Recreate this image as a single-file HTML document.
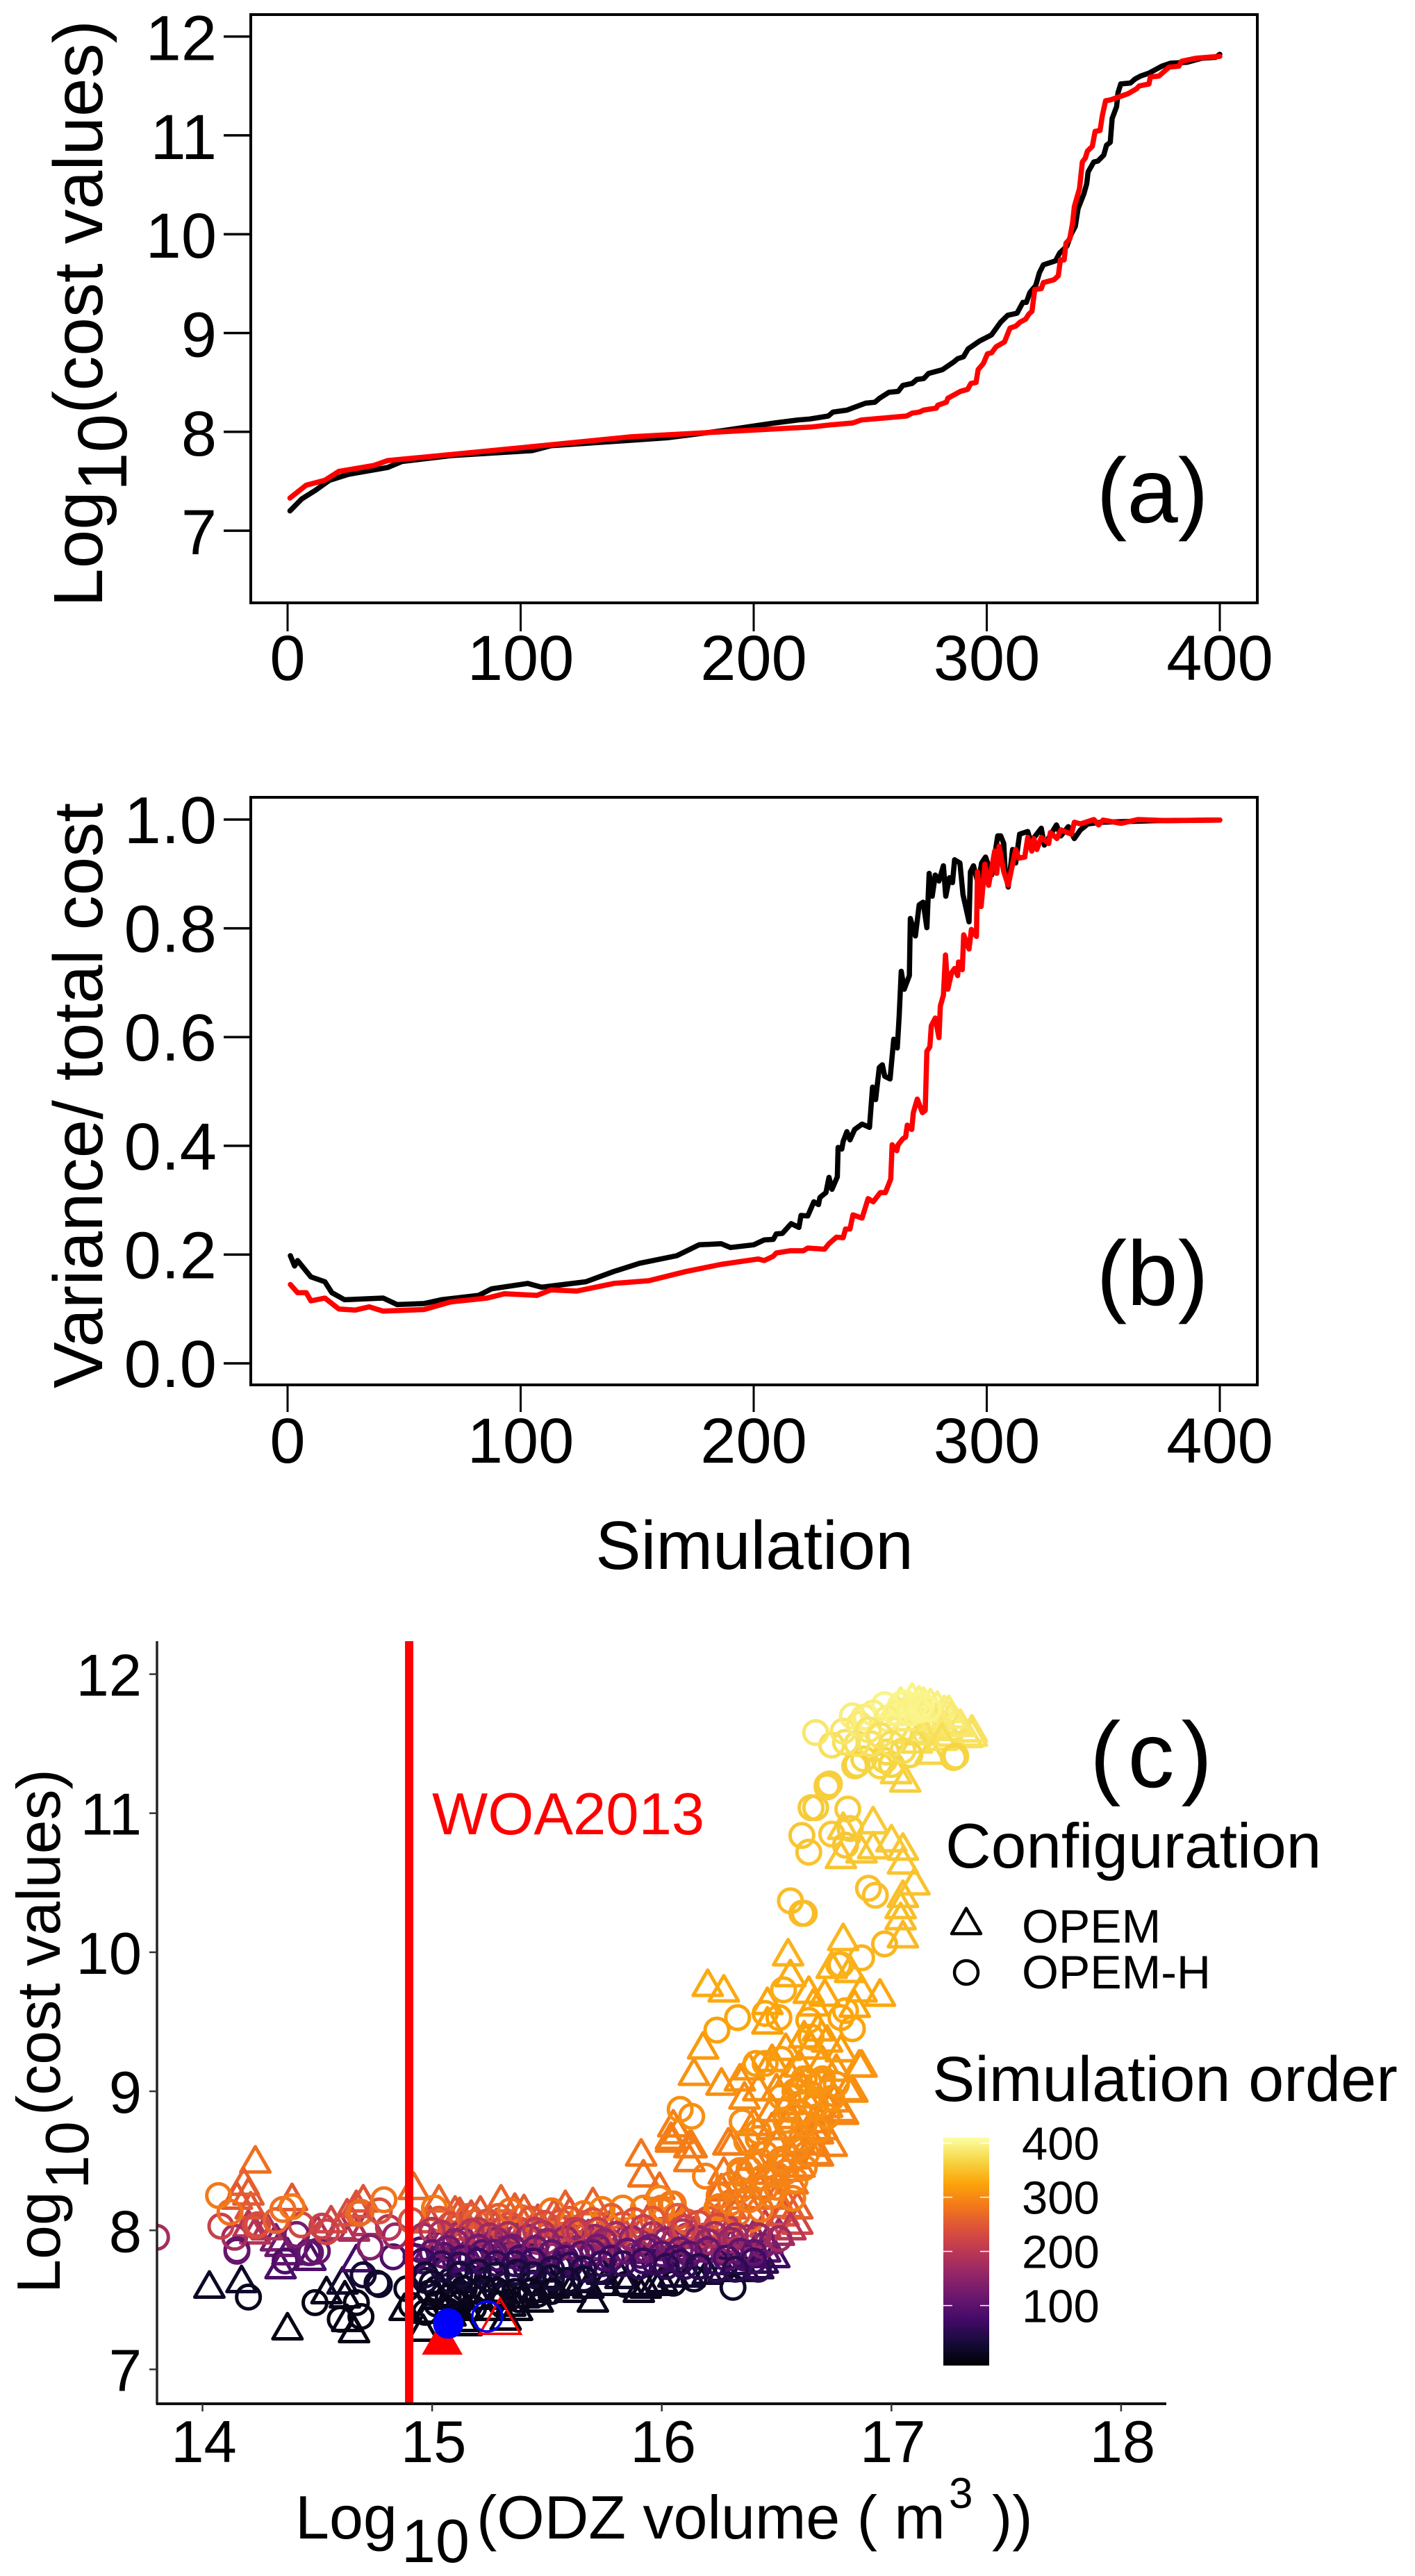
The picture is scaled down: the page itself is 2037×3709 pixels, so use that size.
<!DOCTYPE html>
<html lang="en">
<head>
<meta charset="utf-8">
<title>Cost and variance of simulations</title>
<style>
html,body{margin:0;padding:0;background:#fff}
svg{display:block}
text{font-family:"Liberation Sans",Arial,sans-serif;fill:#000}
</style>
</head>
<body>
<svg id="fig" xmlns="http://www.w3.org/2000/svg" width="2037" height="3709" viewBox="0 0 2037 3709">
  <defs>
    <clipPath id="plot-c-clip"><rect x="226" y="2363" width="1453" height="1098"/></clipPath>
    <linearGradient id="inferno-gradient" x1="0" y1="1" x2="0" y2="0">
      <stop offset="0" stop-color="#000004"/><stop offset=".1" stop-color="#160b39"/>
      <stop offset=".2" stop-color="#420a68"/><stop offset=".3" stop-color="#6a176e"/>
      <stop offset=".4" stop-color="#932667"/><stop offset=".5" stop-color="#bc3754"/>
      <stop offset=".6" stop-color="#dd513a"/><stop offset=".7" stop-color="#f37819"/>
      <stop offset=".8" stop-color="#fca50a"/><stop offset=".9" stop-color="#f6d746"/>
      <stop offset="1" stop-color="#fcffa4"/>
    </linearGradient>
  </defs>
  <rect x="0" y="0" width="2037" height="3709" fill="#fff"/>

  <g id="panel-a">
    <rect x="361" y="21" width="1449" height="847" fill="none" stroke="#000" stroke-width="4"/>
    <text transform="translate(147,874) rotate(-90)" font-size="100">Log<tspan dy="35">10</tspan><tspan dy="-35">(cost values)</tspan></text>
    <text x="1659" y="752" font-size="132" text-anchor="middle">(a)</text>
  </g>
  <g id="panel-b">
    <rect x="361" y="1148" width="1449" height="846" fill="none" stroke="#000" stroke-width="4"/>
    <text transform="translate(147,1999) rotate(-90)" font-size="100">Variance/ total cost</text>
    <text x="1659" y="1879" font-size="132" text-anchor="middle">(b)</text>
    <text x="1086" y="2259" font-size="98" text-anchor="middle">Simulation</text>
  </g>
  <g id="panel-c">
    <g id="scatter" clip-path="url(#plot-c-clip)"></g>
    <line x1="226" y1="2363" x2="226" y2="3462" stroke="#222" stroke-width="3.5"/>
    <line x1="225" y1="3461" x2="1679" y2="3461" stroke="#111" stroke-width="4"/>
    <text x="622" y="2641" font-size="85" style="fill:#f00">WOA2013</text>
    <text x="1662" y="2573" font-size="134" text-anchor="middle" letter-spacing="10">(c)</text>
    <text transform="translate(86,3302) rotate(-90)" font-size="88"><tspan x="0" y="0">Log</tspan><tspan x="150" y="41">10</tspan><tspan x="256" y="0">(cost values)</tspan></text>
    <text font-size="88"><tspan x="425" y="3655">Log</tspan><tspan x="578" y="3689">10</tspan><tspan x="686" y="3655">(ODZ volume ( m</tspan><tspan x="1366" y="3611" font-size="62">3</tspan><tspan x="1428" y="3655">))</tspan></text>

    <text x="1361" y="2689" font-size="91">Configuration</text>
    <polygon points="1391,2747.7 1412,2784.1 1370,2784.1" fill="none" stroke="#000" stroke-width="4.5" stroke-linejoin="round"/>
    <circle cx="1391" cy="2840" r="17" fill="none" stroke="#000" stroke-width="4.5"/>
    <text x="1471" y="2797" font-size="68">OPEM</text>
    <text x="1471" y="2863" font-size="68">OPEM-H</text>
    <text x="1342" y="3025" font-size="92">Simulation order</text>
    <rect x="1358" y="3077.5" width="66" height="328.5" fill="url(#inferno-gradient)"/>
    <g id="colorbar-ticks"></g>
  </g>
</svg>
<script>
/* ---------- Panel (a): sorted cost values ---------- */
var costSimBlack = [1,6,12,18,26,43,49,70,105,113,163,186,209,219,224,232,234,240,248,252,254,258,262,264,268,270,273,275,281,286,287.5,290,292,297,302,306,309,313,315.5,317,318.5,321,322.6,324.3,329.5,331.3,334.4,336.2,338,339.2,341.7,342.9,343.5,345.9,347.7,350.2,351.4,353,353.8,355.7,356.3,357.5,361.7,363.6,366,369.6,375.1,378.8,386,392.2,398.2,400];
var costBlack = [7.20,7.32,7.41,7.51,7.57,7.64,7.70,7.76,7.81,7.86,7.94,8.01,8.09,8.12,8.13,8.16,8.20,8.22,8.29,8.30,8.34,8.40,8.41,8.47,8.49,8.53,8.54,8.59,8.63,8.71,8.74,8.76,8.84,8.92,8.98,9.11,9.18,9.20,9.31,9.31,9.41,9.48,9.61,9.69,9.73,9.81,9.88,10.0,10.08,10.26,10.41,10.51,10.63,10.73,10.74,10.80,10.90,10.93,11.17,11.29,11.43,11.52,11.53,11.57,11.60,11.63,11.70,11.73,11.74,11.78,11.79,11.82];
var costSimRed = [1,8,16,22,37,43,70,109,147.5,186,225,232.8,242.5,246.2,255.9,265.6,268,271.1,272.9,278.4,279,282.7,283.3,288.7,291.8,293.2,295.4,296.3,298.5,300.3,302.1,304,307.6,310,312.5,314.3,316.7,318,319.4,320.6,323.4,324.3,328.9,330.7,331.6,333.2,334,335.6,336.8,337.6,339.8,341,342.3,343.2,345.3,346.5,348.6,349.6,351,353.2,360.5,364.2,365.4,369.6,370.2,373.9,378.2,382.4,383.6,389.7,400];
var costRed = [7.33,7.46,7.51,7.60,7.66,7.71,7.77,7.86,7.95,8.00,8.05,8.07,8.09,8.12,8.14,8.16,8.19,8.20,8.22,8.24,8.27,8.30,8.34,8.41,8.43,8.49,8.50,8.63,8.69,8.79,8.80,8.86,8.91,9.05,9.07,9.11,9.14,9.19,9.22,9.44,9.45,9.51,9.54,9.58,9.74,9.74,9.91,9.95,10.11,10.28,10.46,10.73,10.77,10.84,10.89,11.04,11.05,11.20,11.35,11.36,11.42,11.47,11.50,11.52,11.59,11.60,11.69,11.70,11.75,11.78,11.80];

/* ---------- Panel (b): variance / total cost ---------- */
var ratioSimBlack = [1.2,3,4.3,10,16,19,24.4,41,47,58.5,66,82,87.5,103,109,128,140,151,167,176.6,186,190,200,204.5,208.4,209.7,212.3,216.1,219.4,220.3,223.2,225.8,227.8,228.4,231,232.3,233.6,235.9,236.2,237.8,238.4,240,241.3,243.3,246.5,249.7,251,252.3,253.9,255.2,256.2,258.5,260.1,261.6,262.4,263.3,264.6,266.8,267.2,269.4,271,272.7,274.3,275.3,276.6,277.9,279.5,281.4,282.4,284,285.3,286.2,288.5,289.8,292.4,293,294.3,296.3,297.8,299.5,302.1,304.7,306,307.3,307.9,309.2,311.1,312.4,314.1,317.6,318.9,323.4,324.7,329.9,331.8,335,337.6,340.2,343.4,349.3,372.5,400];
var ratioBlack = [.198,.179,.189,.159,.150,.130,.117,.120,.108,.110,.117,.125,.137,.147,.140,.150,.169,.184,.198,.218,.220,.213,.218,.227,.228,.238,.239,.257,.250,.272,.271,.297,.292,.305,.314,.342,.320,.343,.397,.394,.408,.426,.411,.430,.440,.434,.508,.485,.544,.549,.528,.523,.596,.580,.638,.721,.688,.713,.818,.786,.843,.848,.801,.901,.859,.898,.887,.915,.859,.893,.884,.926,.920,.862,.812,.904,.915,.882,.920,.931,.898,.970,.970,.956,.904,.876,.945,.920,.973,.978,.959,.984,.953,.990,.970,.987,.965,.981,.992,.995,.998,.999];
var ratioSimRed = [1.2,4.3,8,10,16,22,29,35,41,58.5,70,85.6,93,107,113,124,140,155,171,186,202,204.5,208.4,209.7,215.5,221.3,223.2,230.4,232.3,235.5,238.4,239.4,241.3,242.6,246.5,249.1,251.3,254.3,256.5,258.8,259.4,261.4,262,264,265.2,265.9,267.8,268.5,270.2,272.4,273.6,274.3,275.6,276.2,277.9,279.5,280.1,281.4,282.3,283.3,284.9,286.2,287.5,287.9,289.5,290.1,292.4,293.4,295.6,296,297.6,299.2,300.8,303.4,304.3,305.3,307.3,309.2,312.4,313.7,316.3,317.6,319.3,320.2,321.5,323.4,326.6,327.3,330.1,331.8,336.3,337.6,340.2,346,348,349.9,357.7,364.8,377.7,400];
var ratioRed = [.145,.130,.130,.115,.120,.100,.098,.104,.096,.099,.113,.120,.128,.125,.135,.133,.147,.152,.169,.182,.192,.189,.197,.203,.207,.207,.212,.210,.220,.232,.231,.247,.247,.273,.267,.303,.297,.314,.314,.339,.402,.391,.402,.413,.416,.438,.430,.461,.486,.461,.465,.574,.582,.621,.635,.599,.657,.677,.751,.688,.718,.726,.713,.738,.724,.788,.762,.798,.785,.904,.840,.918,.879,.942,.901,.951,.904,.879,.945,.929,.931,.967,.942,.965,.945,.967,.956,.976,.965,.981,.973,.995,.992,1.0,.990,.999,.993,1.0,.998,.999];

/* ---------- Shared tick labels ---------- */
var simTicks = [0,100,200,300,400];
var costTicksA = [7,8,9,10,11,12];
var ratioTicks = ["0.0","0.2","0.4","0.6","0.8","1.0"];
var odzTicks = [14,15,16,17,18];
var costTicksC = [7,8,9,10,11,12];
var orderTicks = [100,200,300,400];

/* ---------- Panel (c): OPEM triangles ---------- */
var triOdz = [
14.37,14.66,14.63,14.96,15.15,15.13,15.32,14.88,15.37,15.34,
15.46,15.70,15.02,14.62,15.40,14.54,15.90,15.53,14.03,15.93,
15.58,15.97,14.61,14.17,15.65,15.25,15.10,15.20,15.82,16.27,
16.05,16.20,16.36,15.74,16.42,14.34,14.67,14.47,16.45,16.49,
14.37,14.34,14.32,14.99,15.15,15.30,15.45,15.60,15.75,15.90,
16.05,16.20,16.30,16.51,16.40,15.05,15.22,15.38,15.52,15.68,
15.84,16.00,16.14,16.30,14.23,14.28,14.50,14.60,14.20,14.66,
14.72,14.99,15.14,15.28,15.46,15.62,15.78,15.94,16.08,16.24,
16.59,14.56,14.63,14.21,14.67,15.10,15.21,15.36,15.58,15.70,
15.30,15.40,15.53,15.60,15.12,15.17,14.23,14.18,14.20,14.15,
14.39,14.70,14.92,15.03,16.45,16.53,16.59,16.55,16.26,16.27,
15.91,15.92,15.99,16.04,16.04,16.12,16.12,16.05,16.07,16.13,
16.31,16.57,16.57,16.68,16.66,16.67,16.48,16.29,16.67,16.68,
16.79,16.78,16.66,16.36,16.83,16.81,16.14,16.26,16.34,16.86,
16.76,16.87,16.60,16.48,16.18,16.54,16.68,16.46,16.66,16.46,
16.55,16.62,16.72,16.60,16.70,16.75,16.50,16.56,16.65,16.78,
16.64,16.71,16.87,16.95,16.20,16.27,16.56,16.55,16.79,16.82,
16.74,16.84,17.05,17.04,17.04,17.05,17.10,17.05,16.78,16.87,
16.92,17.05,17.00,16.79,16.92,17.02,17.06,17.17,17.25,17.35,
17.15,17.22,17.28,17.19,17.10,17.05,17.24,17.33,17.35,17.11,
17.04,17.09,17.12,17.14,17.17,17.20,17.23,17.25,17.02,17.30,
16.30,16.36,16.42,16.50,16.47,16.54,16.60,16.40,16.50,16.60,
16.40,16.48,16.56,16.70,16.74,16.72,16.42,16.38,16.62,16.72,
16.32,16.38,16.44,16.46,16.52,16.56,15.10,15.30,15.45,15.60,
15.75,15.85,16.00,16.12,15.15,15.25,14.98,15.08,15.50,15.68,
17.00,17.05,17.10,17.15,17.20,17.26,17.08,17.18,17.14,17.22];
var triCost = [
7.28,7.26,7.34,7.27,7.31,7.34,7.35,7.42,7.42,7.45,
7.48,7.48,7.50,7.51,7.51,7.54,7.55,7.58,7.58,7.58,
7.60,7.60,7.61,7.62,7.62,7.55,7.52,7.50,7.65,7.70,
7.66,7.68,7.70,7.68,7.72,7.72,7.77,7.78,7.84,7.80,
7.82,7.88,7.92,7.85,7.83,7.85,7.84,7.86,7.85,7.83,
7.85,7.84,7.88,7.96,7.95,7.93,7.95,7.93,7.96,7.95,
7.96,7.94,7.97,8.00,7.97,8.00,7.98,8.00,8.02,7.99,
8.03,8.05,8.04,8.03,8.06,8.05,8.03,8.06,8.05,8.06,
8.04,8.05,8.10,8.15,8.16,8.12,8.12,8.14,8.16,8.18,
8.20,8.13,8.10,8.11,8.11,8.09,8.48,8.32,8.25,8.22,
8.21,8.20,8.29,8.20,8.02,8.10,8.15,8.16,8.28,8.40,
8.53,8.38,8.29,8.63,8.65,8.49,8.59,8.74,8.69,8.59,
8.61,8.33,8.51,8.53,8.61,8.69,8.72,8.61,8.54,8.69,
8.83,8.85,8.77,8.94,8.99,9.00,9.11,9.04,9.07,9.17,
9.14,9.17,9.17,9.21,9.30,9.29,9.43,9.48,9.61,9.62,
8.90,8.95,9.02,9.05,9.20,8.92,9.00,9.10,9.30,9.28,
9.70,9.68,9.71,9.68,9.75,9.71,9.82,9.97,10.08,9.85,
9.88,9.60,10.10,10.23,10.31,10.39,10.48,10.63,10.67,10.71,
10.74,10.73,10.79,10.88,10.92,11.28,11.22,11.42,11.55,11.55,
11.63,11.62,11.64,11.60,11.57,11.57,11.59,11.54,11.58,11.50,
11.78,11.81,11.79,11.78,11.77,11.75,11.72,11.72,11.74,11.62,
8.15,8.22,8.30,8.22,8.40,8.42,8.45,8.50,8.60,8.62,
8.75,8.85,8.80,8.72,8.60,8.88,9.00,9.15,9.38,9.35,
7.75,7.80,7.76,7.90,8.10,8.00,7.62,7.50,7.55,7.55,
7.60,7.60,7.62,7.66,7.42,7.42,7.40,7.38,7.65,7.58,
11.70,11.70,11.72,11.72,11.68,11.68,11.66,11.66,11.56,11.52];
var triOrder = [
2,2,3,3,3,3,4,4,5,5,
6,6,6,6,7,8,8,10,15,10,
12,12,25,20,14,10,8,7,22,30,
24,28,32,28,50,85,75,85,95,70,
105,115,130,110,100,110,105,115,110,100,
110,105,125,170,160,150,160,150,170,160,
170,155,175,195,190,190,185,190,195,180,
190,225,215,210,230,225,210,230,225,230,
225,225,235,245,240,250,250,255,260,262,
262,255,250,250,250,245,275,260,255,250,
250,245,270,265,215,240,255,258,270,280,
282,278,272,288,288,285,288,292,290,288,
288,282,288,288,290,292,292,288,288,292,
298,298,295,302,304,305,308,306,307,310,
310,311,311,312,316,315,320,322,325,325,
300,302,305,306,312,300,304,308,316,316,
328,327,330,328,330,329,332,336,340,334,
335,325,342,345,347,348,350,352,352,353,
354,354,355,356,357,362,361,368,378,378,
382,382,384,380,378,378,380,377,379,372,
395,398,397,396,395,394,392,392,392,385,
260,272,280,272,285,286,288,288,290,292,
296,300,298,296,292,300,304,308,318,318,
40,70,55,130,240,200,14,7,10,10,
12,12,14,22,4,4,3,3,20,12,
390,390,392,392,388,388,386,386,378,375];

/* ---------- Panel (c): OPEM-H circles ---------- */
var circOdz = [
14.60,14.69,14.97,14.91,14.49,14.67,15.07,15.18,15.30,15.38,
14.20,15.46,15.31,15.20,15.12,14.89,15.02,15.44,15.50,14.76,
14.77,15.84,16.05,16.31,16.14,14.97,15.08,15.16,15.24,15.34,
14.70,15.73,16.24,16.42,15.05,15.25,15.41,15.55,15.90,16.10,
15.97,16.24,14.36,15.10,15.58,15.17,15.28,14.83,15.91,15.34,
15.42,15.75,16.00,16.36,14.46,14.47,14.50,14.15,14.15,14.95,
15.80,16.14,16.27,15.63,15.55,15.19,14.73,15.02,15.30,16.44,
16.27,15.46,15.77,15.90,16.05,14.41,14.14,13.80,14.84,16.11,
16.19,15.12,15.38,15.66,16.36,16.51,14.54,15.82,16.28,16.00,
15.31,15.37,15.56,16.29,14.81,15.11,14.08,14.23,14.52,15.34,
14.24,14.43,15.83,15.56,15.19,16.11,14.32,14.91,15.67,16.20,
16.39,15.39,14.68,14.69,15.66,14.12,15.34,15.52,16.00,14.77,
14.35,15.74,15.83,15.92,15.998,16.24,15.01,14.39,16.25,16.05,
16.04,14.79,15.99,16.57,14.07,16.48,16.34,16.50,16.19,16.38,
16.34,16.34,16.42,16.54,16.53,16.52,16.61,16.37,16.42,16.42,
16.35,16.54,16.13,16.08,16.55,16.67,16.67,16.52,16.69,16.62,
16.70,16.64,16.41,16.45,16.52,16.24,16.65,16.83,16.33,16.51,
16.78,16.45,16.64,16.80,16.53,16.77,16.78,16.87,16.97,16.62,
16.56,16.61,16.90,16.93,16.64,16.61,16.74,16.80,16.82,16.67,
16.65,16.81,16.72,16.72,16.73,17.27,17.28,16.84,16.85,17.08,
16.88,16.98,16.95,17.00,16.97,16.74,16.80,16.85,16.91,16.67,
16.79,16.83,16.88,16.89,16.86,16.97,17.04,17.10,17.13,17.06,
15.03,15.08,15.16,15.24,15.29,15.43,15.49,15.60,15.70,15.78,
15.88,15.96,16.07,16.16,16.24,16.33,16.30,16.43,16.38,16.45,
14.96,15.04,15.13,15.17,15.28,15.33,15.42,15.48,15.58,15.64,
15.71,15.80,15.87,15.96,16.02,16.09,16.16,16.23,16.32,16.42,
16.25,16.30,16.36,16.44,16.50,16.58,16.62,16.45,16.50,16.58,
16.63,16.56,16.62,16.68,16.60,16.72,16.65,16.74,16.58,16.76,
16.92,16.98,17.02,17.08,17.12,17.16,16.90,16.95,17.00,17.05,
15.00,15.20,15.45,15.62,15.72,15.92,16.10,15.25,16.20,15.50,
16.40,16.30,15.75,15.95,16.08,15.35,15.10,15.05,15.70,15.22,
14.93,15.00,15.07,15.13,15.20,15.27,15.33,15.38,15.45,15.52,
15.58,15.65,15.72,15.78,15.85,15.93,16.00,16.06,16.12,16.20,
16.28,16.34,16.40,14.96,15.04,15.12,15.20,15.28,15.36,15.44,
15.52,15.60,15.66,15.74,15.83,15.92,16.02,16.08,16.16,16.32,
14.97,15.00,15.12,15.20,15.28,15.37,15.44,15.52,15.59,15.66,
14.99,15.07,15.14,15.22,15.28,15.36,15.43,15.52,15.02,15.12];
var circCost = [
7.36,7.38,7.41,7.46,7.48,7.48,7.42,7.44,7.47,7.50,
7.52,7.54,7.54,7.56,7.55,7.58,7.58,7.62,7.61,7.62,
7.61,7.61,7.62,7.59,7.65,7.64,7.64,7.66,7.65,7.68,
7.68,7.71,7.72,7.72,7.72,7.72,7.73,7.74,7.74,7.74,
7.77,7.77,7.78,7.79,7.77,7.80,7.80,7.81,7.82,7.82,
7.82,7.80,7.78,7.80,7.84,7.84,7.85,7.85,7.86,7.86,
7.84,7.86,7.84,7.87,7.87,7.87,7.88,7.90,7.90,7.89,
7.86,7.92,7.92,7.92,7.91,7.97,7.95,7.95,7.96,7.96,
7.96,7.97,7.96,7.96,7.95,7.94,7.99,7.98,7.99,8.00,
8.01,8.01,8.01,8.01,8.02,8.02,8.03,8.03,8.03,8.04,
8.04,8.04,8.04,8.06,8.06,8.06,8.07,8.07,8.05,8.08,
8.08,8.09,8.12,8.13,8.12,8.13,8.14,8.14,8.14,8.14,
8.15,8.15,8.16,8.16,8.16,8.16,8.16,8.17,8.17,8.19,
8.19,8.22,8.23,8.23,8.25,8.25,8.29,8.31,8.39,8.44,
8.41,8.43,8.47,8.42,8.49,8.51,8.66,8.64,8.66,8.71,
8.78,8.79,8.82,8.87,8.87,8.89,8.90,8.96,9.07,9.09,
9.09,9.07,9.20,9.20,9.23,9.44,9.39,9.45,9.53,9.53,
9.53,9.56,9.51,9.58,9.73,9.91,9.91,9.96,10.06,10.28,
10.37,10.28,10.46,10.41,10.72,10.84,10.85,10.77,10.89,11.04,
11.04,11.03,11.19,11.20,11.21,11.40,11.41,11.34,11.35,11.42,
11.39,11.44,11.34,11.35,11.38,11.49,11.51,11.50,11.50,11.58,
11.59,11.70,11.69,11.69,11.64,11.78,11.78,11.77,11.78,11.79,
8.08,8.04,8.10,8.06,8.10,8.08,8.05,8.08,8.07,8.10,
8.07,8.08,8.10,8.05,8.03,8.12,8.20,8.15,8.22,8.30,
7.96,7.98,7.93,7.99,7.93,7.97,7.95,7.98,7.94,7.99,
7.95,7.97,7.94,7.97,7.93,7.99,7.94,7.97,7.96,7.96,
8.25,8.33,8.36,8.38,8.40,8.36,8.45,8.55,8.62,8.58,
8.55,8.72,8.76,8.72,8.85,8.82,8.98,8.95,9.00,9.05,
11.72,11.68,11.72,11.72,11.74,11.75,11.60,11.56,11.50,11.45,
8.00,8.00,8.00,8.00,8.00,8.02,8.02,7.96,7.92,7.92,
7.84,7.93,7.92,7.88,7.86,7.88,7.92,7.82,7.84,7.84,
7.81,7.84,7.87,7.80,7.88,7.84,7.87,7.80,7.87,7.84,
7.80,7.83,7.88,7.80,7.85,7.86,7.83,7.80,7.83,7.86,
7.80,7.85,7.78,7.78,7.76,7.75,7.78,7.76,7.76,7.78,
7.72,7.75,7.72,7.76,7.76,7.78,7.74,7.77,7.74,7.72,
7.68,7.62,7.68,7.70,7.68,7.70,7.68,7.66,7.64,7.65,
7.55,7.52,7.58,7.58,7.57,7.56,7.56,7.56,7.47,7.47];
var circOrder = [
2,2,3,4,3,3,3,3,5,6,
10,8,8,6,7,10,10,15,12,18,
18,10,12,20,18,25,22,20,20,22,
25,40,50,55,35,35,45,50,50,52,
60,60,85,75,70,75,80,85,80,85,
90,75,65,80,100,105,110,110,110,90,
150,120,110,140,150,150,140,135,140,130,
150,160,170,165,155,130,175,175,160,180,
230,170,165,165,165,170,220,235,250,225,
225,225,230,200,200,235,215,225,215,240,
235,225,240,245,260,250,260,240,240,255,
270,265,265,270,285,275,275,280,285,240,
275,290,290,290,285,290,285,285,288,285,
285,280,295,290,285,290,292,292,292,296,
294,295,296,296,298,298,300,300,300,302,
304,304,305,306,306,307,307,309,312,313,
313,312,317,317,318,322,322,325,326,326,
326,327,326,328,332,336,336,338,340,345,
346,345,348,348,352,354,355,353,356,358,
358,358,360,360,360,365,365,364,364,366,
366,368,366,366,367,376,378,378,378,385,
384,392,392,392,388,398,399,399,400,400,
250,235,255,240,255,250,235,250,245,255,
245,250,255,235,230,265,285,280,288,290,
170,185,150,190,150,175,160,185,155,190,
160,175,155,175,150,190,155,175,170,170,
285,290,292,294,295,294,296,298,299,298,
298,302,303,302,305,305,308,308,308,310,
393,392,395,396,397,398,384,380,376,372,
190,200,200,205,210,215,220,170,160,150,
105,160,155,125,118,125,145,95,105,100,
85,105,120,80,125,105,120,80,120,105,
85,100,125,80,110,115,100,85,100,115,
85,110,70,65,58,55,65,58,58,65,
45,55,45,58,58,65,50,60,50,50,
28,20,30,32,30,34,30,26,22,22,
10,8,12,12,12,12,10,10,4,4];

/* ---------- Highlighted reference simulations and WOA2013 volume ---------- */
var bestOpemOdz = 15.044;
var bestOpemCost = 7.19;
var bestOpemHOdz = 15.07;
var bestOpemHCost = 7.33;
var refOpemOdz = 15.296;
var refOpemCost = 7.34;
var refOpemHOdz = 15.24;
var refOpemHCost = 7.38;
var woaOdz = 14.9;

/* ---------- Axis functions ---------- */
function xSim(v){ return 414 + v * 3.355; }
function yCostA(v){ return 52.6 + (12 - v) * 142.3; }
function yRatio(v){ return 1963 - v * 783; }
function xOdz(v){ return 291.5 + (v - 14) * 330.6; }
function yCostC(v){ return 2410.5 + (12 - v) * 200.2; }
function yOrder(v){ return 3397.6 - v * 0.78; }

var NS = 'http://www.w3.org/2000/svg';
function mk(tag, attrs, parent, content){
  var el = document.createElementNS(NS, tag);
  for (var k in attrs) { el.setAttribute(k, attrs[k]); }
  if (content !== undefined) { el.textContent = content; }
  parent.appendChild(el);
  return el;
}

var palette = [[0,0,4],[22,11,57],[66,10,104],[106,23,110],[147,38,103],[188,55,84],[221,81,58],[243,120,25],[252,165,10],[246,215,70],[252,255,164]];
function orderColor(o){
  var t = Math.max(0, Math.min(1, (o + 11) / 421)) * 10;
  var i = Math.min(9, Math.floor(t));
  var f = t - i;
  var a = palette[i], b = palette[i + 1];
  return 'rgb(' + Math.round(a[0] + (b[0] - a[0]) * f) + ',' + Math.round(a[1] + (b[1] - a[1]) * f) + ',' + Math.round(a[2] + (b[2] - a[2]) * f) + ')';
}

function pathFrom(xs, ys, fx, fy){
  var n = Math.min(xs.length, ys.length), d = '';
  for (var i = 0; i < n; i++) { d += (i ? 'L' : 'M') + fx(xs[i]).toFixed(1) + ' ' + fy(ys[i]).toFixed(1); }
  return d;
}

/* ---------- Panel a & b marks ---------- */
var panelA = document.getElementById('panel-a');
var panelB = document.getElementById('panel-b');
function seriesAttrs(d, color){
  return {d:d, stroke:color, fill:'none', 'stroke-width':7.5, 'stroke-linejoin':'round', 'stroke-linecap':'round'};
}

var lineABlack = mk('path', seriesAttrs(pathFrom(costSimBlack, costBlack, xSim, yCostA), '#000'), panelA);


var lineARed = mk('path', seriesAttrs(pathFrom(costSimRed, costRed, xSim, yCostA), '#f00'), panelA);


var lineBBlack = mk('path', seriesAttrs(pathFrom(ratioSimBlack, ratioBlack, xSim, yRatio), '#000'), panelB);


var lineBRed = mk('path', seriesAttrs(pathFrom(ratioSimRed, ratioRed, xSim, yRatio), '#f00'), panelB);



/* ---------- Ticks panels a & b ---------- */
simTicks.forEach(function(v){
  var tickA = mk('line', {x1:xSim(v), x2:xSim(v), y1:868, y2:909, stroke:'#000', 'stroke-width':3}, panelA);
  
  
  var labA = mk('text', {x:xSim(v), y:979, 'font-size':92, 'text-anchor':'middle'}, panelA, String(v));
  
  
  var tickB = mk('line', {x1:xSim(v), x2:xSim(v), y1:1994, y2:2033, stroke:'#000', 'stroke-width':3}, panelB);
  
  
  var labB = mk('text', {x:xSim(v), y:2106, 'font-size':92, 'text-anchor':'middle'}, panelB, String(v));
  
  
});
costTicksA.forEach(function(v){
  var tick = mk('line', {x1:322, x2:361, y1:yCostA(v), y2:yCostA(v), stroke:'#000', 'stroke-width':3.5}, panelA);
  
  
  var lab = mk('text', {x:312, y:yCostA(v) + 34, 'font-size':92, 'text-anchor':'end'}, panelA, String(v));
  
  
});
ratioTicks.forEach(function(v){
  var tick = mk('line', {x1:322, x2:361, y1:yRatio(+v), y2:yRatio(+v), stroke:'#000', 'stroke-width':3.5}, panelB);
  
  
  var lab = mk('text', {x:312, y:yRatio(+v) + 34, 'font-size':96, 'text-anchor':'end'}, panelB, v);
  
  
});

/* ---------- Panel c marks ---------- */
var scatter = document.getElementById('scatter');
var panelC = document.getElementById('panel-c');
function triPoints(cx, cy, s){
  return cx + ',' + (cy - 24.3 * s) + ' ' + (cx + 21 * s) + ',' + (cy + 12.1 * s) + ' ' + (cx - 21 * s) + ',' + (cy + 12.1 * s);
}
for (var i = 0; i < triOdz.length; i++) {
  var tri = mk('polygon', {points:triPoints(xOdz(triOdz[i]), yCostC(triCost[i]), 1), fill:'none', stroke:orderColor(triOrder[i]), 'stroke-width':5, 'stroke-linejoin':'round'}, scatter);
  
  
}
for (var j = 0; j < circOdz.length; j++) {
  var circ = mk('circle', {cx:xOdz(circOdz[j]), cy:yCostC(circCost[j]), r:17, fill:'none', stroke:orderColor(circOrder[j]), 'stroke-width':5}, scatter);
  
  
}
var refTri = mk('polygon', {points:triPoints(xOdz(refOpemOdz), yCostC(refOpemCost), 1.4), fill:'none', stroke:'#f00', 'stroke-width':3.5}, scatter);


var refCirc = mk('circle', {cx:xOdz(refOpemHOdz), cy:yCostC(refOpemHCost), r:21.5, fill:'none', stroke:'#00f', 'stroke-width':3.5}, scatter);


var bestTri = mk('polygon', {points:triPoints(xOdz(bestOpemOdz), yCostC(bestOpemCost), 1.4), fill:'#f00', stroke:'none'}, scatter);


var bestCirc = mk('circle', {cx:xOdz(bestOpemHOdz), cy:yCostC(bestOpemHCost), r:22, fill:'#00f'}, scatter);


var woaLine = mk('line', {x1:xOdz(woaOdz), x2:xOdz(woaOdz), y1:2363, y2:3461, stroke:'#f00', 'stroke-width':12}, scatter);



odzTicks.forEach(function(v){
  var tick = mk('line', {x1:xOdz(v), x2:xOdz(v), y1:3461, y2:3472, stroke:'#333', 'stroke-width':2.5}, panelC);
  
  
  var lab = mk('text', {x:xOdz(v) + 2, y:3545, 'font-size':85, 'text-anchor':'middle'}, panelC, String(v));
  
  
});
costTicksC.forEach(function(v){
  var tick = mk('line', {x1:215, x2:226, y1:yCostC(v), y2:yCostC(v), stroke:'#333', 'stroke-width':2.5}, panelC);
  
  
  var lab = mk('text', {x:204, y:yCostC(v) + 31, 'font-size':85, 'text-anchor':'end'}, panelC, String(v));
  
  
});

var cbTicks = document.getElementById('colorbar-ticks');
orderTicks.forEach(function(v){
  var left = mk('line', {x1:1358, x2:1371, y1:yOrder(v), y2:yOrder(v), stroke:'#fff', 'stroke-width':1.5}, cbTicks);
  
  
  var right = mk('line', {x1:1411, x2:1424, y1:yOrder(v), y2:yOrder(v), stroke:'#fff', 'stroke-width':1.5}, cbTicks);
  
  
  var lab = mk('text', {x:1471, y:yOrder(v) + 24, 'font-size':67}, cbTicks, String(v));
  
  
});
</script>
</body>
</html>
